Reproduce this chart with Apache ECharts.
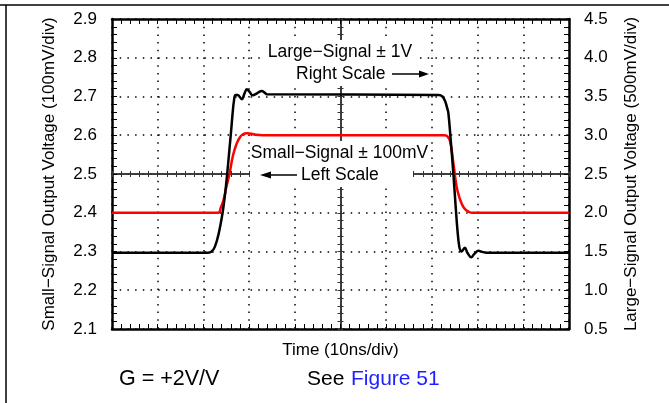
<!DOCTYPE html>
<html>
<head>
<meta charset="utf-8">
<script src="https://cdn.jsdelivr.net/npm/echarts@6/dist/echarts.min.js"></script>
<style>
html,body{margin:0;padding:0;background:#fff;}
#chart{width:669px;height:403px;}
</style>
</head>
<body>
<div id="chart"></div>
<script>
// ---- data (time in ns, 10 ns per division) ----
const xTicks = [0, 10, 20, 30, 40, 50, 60, 70, 80, 90, 100];
const leftTicks = [2.1, 2.2, 2.3, 2.4, 2.5, 2.6, 2.7, 2.8, 2.9];
const rightTicks = [0.5, 1.0, 1.5, 2.0, 2.5, 3.0, 3.5, 4.0, 4.5];

// Large-signal (black, right scale, V)
const largeTime = [0, 21.0, 21.8, 22.5, 23.3, 24.2, 24.7, 25.2, 25.7, 26.1, 26.4, 26.7, 27.0, 27.5, 28.4, 29.0, 29.5, 30.1, 30.8, 31.8, 32.8, 33.4, 33.9, 71.5, 72.3, 72.9, 73.3, 73.6, 74.1, 74.7, 75.2, 75.6, 76.0, 76.4, 76.8, 77.2, 77.8, 78.6, 79.3, 80.2, 81.0, 82.0, 100];
const largeValue = [1.485, 1.485, 1.50, 1.56, 1.72, 2.00, 2.22, 2.50, 2.82, 3.08, 3.29, 3.45, 3.52, 3.52, 3.465, 3.54, 3.595, 3.56, 3.515, 3.545, 3.57, 3.55, 3.53, 3.52, 3.50, 3.44, 3.36, 3.29, 2.95, 2.50, 2.08, 1.77, 1.56, 1.50, 1.52, 1.55, 1.48, 1.425, 1.47, 1.51, 1.495, 1.485, 1.485];

// Small-signal (red, left scale, V)
const smallTime = [0, 23.2, 23.8, 24.4, 25.0, 25.7, 26.5, 27.3, 28.0, 28.6, 29.5, 30.5, 31.5, 33.0, 72.8, 73.4, 74.0, 74.7, 75.4, 76.0, 76.5, 77.2, 78.0, 78.8, 100];
const smallValue = [2.40, 2.40, 2.413, 2.433, 2.465, 2.50, 2.549, 2.579, 2.595, 2.602, 2.605, 2.604, 2.601, 2.60, 2.60, 2.597, 2.583, 2.528, 2.468, 2.44, 2.424, 2.41, 2.403, 2.40, 2.40];

const zip = (a, b) => a.map((v, i) => [v, b[i]]);

const FONT = '"Liberation Sans", Arial, sans-serif';
const chart = echarts.init(document.getElementById('chart'), null, {renderer: 'canvas'});

const dotted = {show: true, lineStyle: {color: '#000', width: 1.5, type: [1.5, 6.2]}};
function xAx(extra) {
  return Object.assign({
    type: 'value', min: xTicks[0], max: xTicks[xTicks.length - 1], interval: 10,
    axisLabel: {show: false}, splitLine: {show: false},
    axisLine: {show: true, onZero: false, lineStyle: {color: '#000', width: 2.5}},
    axisTick: {show: true, inside: true, length: 5, lineStyle: {color: '#000', width: 1}},
    minorTick: {show: true, splitNumber: 5, length: 5, lineStyle: {color: '#000', width: 1}}
  }, extra);
}
function yAx(extra) {
  return Object.assign({
    type: 'value',
    axisLine: {show: true, onZero: false, lineStyle: {color: '#000', width: 2.5}},
    axisTick: {show: true, inside: true, length: 5, lineStyle: {color: '#000', width: 1}},
    minorTick: {show: true, splitNumber: 5, length: 5, lineStyle: {color: '#000', width: 1}},
    splitLine: {show: false}
  }, extra);
}
const crossLine = {show: true, onZero: false, lineStyle: {color: '#333', width: 1.5}};
const crossTick = (inside) => ({show: true, inside: inside, length: 3, lineStyle: {color: '#333', width: 1}});
const crossMinor = {show: true, splitNumber: 5, length: 3, lineStyle: {color: '#333', width: 1}};
const nameStyle = {fontFamily: FONT, fontSize: 17, color: '#000'};
const labelStyle = {show: true, margin: 15, fontFamily: FONT, fontSize: 17, color: '#000', formatter: v => v.toFixed(1)};

const option = {
  animation: false,
  backgroundColor: '#fff',
  grid: {left: 112, top: 19, width: 457, height: 310, containLabel: false, outerBoundsMode: 'none'},
  xAxis: [
    xAx({position: 'bottom', splitLine: dotted,
      name: 'Time (10ns/div)', nameLocation: 'middle', nameGap: 13, nameTextStyle: nameStyle}),
    xAx({position: 'top'}),
    xAx({position: 'bottom', offset: -155, axisLine: crossLine, axisTick: crossTick(false), minorTick: crossMinor}),
    xAx({position: 'bottom', offset: -155, axisLine: crossLine, axisTick: crossTick(true), minorTick: crossMinor})
  ],
  yAxis: [
    yAx({position: 'left', min: leftTicks[0], max: leftTicks[leftTicks.length - 1], interval: 0.1,
      splitLine: dotted, axisLabel: labelStyle,
      name: 'Small\u2212Signal Output Voltage (100mV/div)', nameLocation: 'middle', nameGap: 54, nameRotate: 90,
      nameTextStyle: nameStyle}),
    yAx({position: 'right', min: rightTicks[0], max: rightTicks[rightTicks.length - 1], interval: 0.5,
      axisLabel: labelStyle,
      name: 'Large\u2212Signal Output Voltage (500mV/div)', nameLocation: 'middle', nameGap: 54, nameRotate: 90,
      nameTextStyle: nameStyle}),
    yAx({position: 'left', offset: -228.5, min: leftTicks[0], max: leftTicks[leftTicks.length - 1], interval: 0.1,
      axisLabel: {show: false}, axisLine: crossLine, axisTick: crossTick(false), minorTick: crossMinor}),
    yAx({position: 'left', offset: -228.5, min: leftTicks[0], max: leftTicks[leftTicks.length - 1], interval: 0.1,
      axisLabel: {show: false}, axisLine: crossLine, axisTick: crossTick(true), minorTick: crossMinor})
  ],
  series: [
    {type: 'line', name: 'Small-Signal', xAxisIndex: 0, yAxisIndex: 0, data: zip(smallTime, smallValue),
      showSymbol: false, smooth: 0.5, lineStyle: {color: '#ff0000', width: 2.5}, z: 5},
    {type: 'line', name: 'Large-Signal', xAxisIndex: 0, yAxisIndex: 1, data: zip(largeTime, largeValue),
      showSymbol: false, smooth: 0.4, lineStyle: {color: '#000', width: 2.5}, z: 6}
  ],
  graphic: [
    // page frame lines
    {type: 'line', shape: {x1: 0, y1: 5, x2: 669, y2: 5}, style: {stroke: '#000', lineWidth: 1.5}, z: 100},
    {type: 'line', shape: {x1: 6, y1: 5, x2: 6, y2: 403}, style: {stroke: '#000', lineWidth: 1.5}, z: 100},
    // white boxes behind annotations
    {type: 'rect', shape: {x: 262, y: 40, width: 156, height: 24}, style: {fill: '#fff'}, z: 100},
    {type: 'rect', shape: {x: 290, y: 63, width: 140, height: 23}, style: {fill: '#fff'}, z: 100},
    {type: 'rect', shape: {x: 250, y: 141, width: 178, height: 24}, style: {fill: '#fff'}, z: 100},
    {type: 'rect', shape: {x: 250, y: 163, width: 163, height: 24}, style: {fill: '#fff'}, z: 100},
    // annotation texts
    {type: 'text', x: 340, y: 52, z: 101, style: {text: 'Large\u2212Signal \u00b1 1V', font: '17.5px ' + FONT, fill: '#000', align: 'center', verticalAlign: 'middle'}},
    {type: 'text', x: 296, y: 74, z: 101, style: {text: 'Right Scale', font: '17.5px ' + FONT, fill: '#000', align: 'left', verticalAlign: 'middle'}},
    {type: 'line', shape: {x1: 392, y1: 74, x2: 421, y2: 74}, style: {stroke: '#000', lineWidth: 1.5}, z: 101},
    {type: 'polygon', shape: {points: [[419, 70.5], [429, 74], [419, 77.5]]}, style: {fill: '#000'}, z: 101},
    {type: 'text', x: 339.5, y: 153, z: 101, style: {text: 'Small\u2212Signal \u00b1 100mV', font: '17.5px ' + FONT, fill: '#000', align: 'center', verticalAlign: 'middle'}},
    {type: 'text', x: 301, y: 175, z: 101, style: {text: 'Left Scale', font: '17.5px ' + FONT, fill: '#000', align: 'left', verticalAlign: 'middle'}},
    {type: 'line', shape: {x1: 269, y1: 175, x2: 297, y2: 175}, style: {stroke: '#000', lineWidth: 1.5}, z: 101},
    {type: 'polygon', shape: {points: [[271, 171.5], [260, 175], [271, 178.5]]}, style: {fill: '#000'}, z: 101},
    // footer
    {type: 'text', x: 119, y: 379, z: 101, style: {text: 'G = +2V/V', font: '21.5px ' + FONT, fill: '#000', align: 'left', verticalAlign: 'middle'}},
    {type: 'text', x: 307, y: 379, z: 101, style: {text: 'See', font: '21px ' + FONT, fill: '#000', align: 'left', verticalAlign: 'middle'}},
    {type: 'text', x: 351, y: 379, z: 101, style: {text: 'Figure 51', font: '21px ' + FONT, fill: '#1f1fff', align: 'left', verticalAlign: 'middle'}}
  ]
};
chart.setOption(option);
</script>
</body>
</html>
